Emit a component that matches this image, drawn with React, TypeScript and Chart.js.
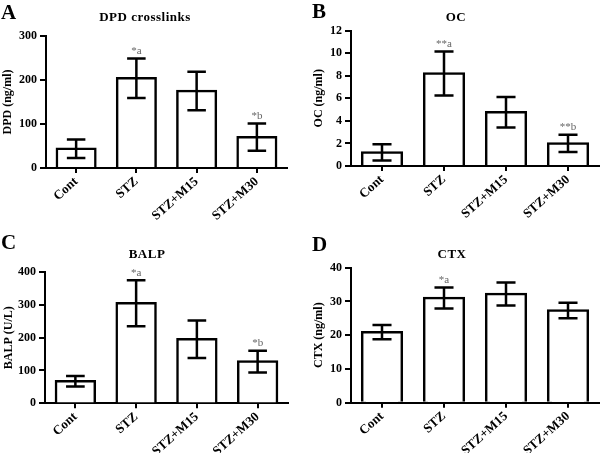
import React, { useEffect, useRef } from "react";
import { Chart, registerables } from "chart.js";

Chart.register(...registerables);

const categories = ["Cont", "STZ", "STZ+M15", "STZ+M30"];

const dpdMeans = [44, 204, 175, 70];
const dpdErrors = [21, 45, 44, 31];
const dpdMarks = ["", "*a", "", "*b"];
const dpdAxis = [0, 300, 100];

const ocMeans = [1.2, 8.2, 4.75, 2.0];
const ocErrors = [0.72, 1.95, 1.35, 0.77];
const ocMarks = ["", "**a", "", "**b"];
const ocAxis = [0, 12, 2];

const balpMeans = [67, 305, 195, 127];
const balpErrors = [16, 70, 57, 33];
const balpMarks = ["", "*a", "", "*b"];
const balpAxis = [0, 400, 100];

const ctxMeans = [20.9, 31, 32.2, 27.3];
const ctxErrors = [2.1, 3.1, 3.4, 2.3];
const ctxMarks = ["", "*a", "", ""];
const ctxAxis = [0, 40, 10];

const FONT = '"Liberation Serif", "Times New Roman", serif';

type Spec = {
  letter: string;
  title: string;
  yTitle: string;
  means: number[];
  errors: number[];
  marks: string[];
  axis: number[];
  left: number;
  top: number;
  width: number;
  height: number;
  area: { l: number; r: number; t: number; b: number };
  titleX: number;
  titleY: number;
  letterX: number;
  letterY: number;
  yTitlePad: number;
};

const panels: Spec[] = [
  {
    letter: "A", title: "DPD crosslinks", yTitle: "DPD (ng/ml)",
    means: dpdMeans, errors: dpdErrors, marks: dpdMarks, axis: dpdAxis,
    left: 0, top: 0, width: 300, height: 226,
    area: { l: 46, r: 287, t: 36, b: 168 },
    titleX: 145, titleY: 18, letterX: 1, letterY: 19, yTitlePad: 1,
  },
  {
    letter: "B", title: "OC", yTitle: "OC (ng/ml)",
    means: ocMeans, errors: ocErrors, marks: ocMarks, axis: ocAxis,
    left: 300, top: 0, width: 300, height: 226,
    area: { l: 51, r: 299, t: 30.5, b: 166 },
    titleX: 156, titleY: 18, letterX: 12, letterY: 18, yTitlePad: 12,
  },
  {
    letter: "C", title: "BALP", yTitle: "BALP (U/L)",
    means: balpMeans, errors: balpErrors, marks: balpMarks, axis: balpAxis,
    left: 0, top: 226, width: 300, height: 227,
    area: { l: 45, r: 288, t: 46, b: 177.3 },
    titleX: 147, titleY: 29, letterX: 1, letterY: 23, yTitlePad: 2,
  },
  {
    letter: "D", title: "CTX", yTitle: "CTX (ng/ml)",
    means: ctxMeans, errors: ctxErrors, marks: ctxMarks, axis: ctxAxis,
    left: 300, top: 226, width: 300, height: 227,
    area: { l: 51, r: 299, t: 41.7, b: 176.7 },
    titleX: 152, titleY: 29, letterX: 12, letterY: 25, yTitlePad: 12,
  },
];

function Panel({ spec }: { spec: Spec }) {
  const ref = useRef<HTMLCanvasElement>(null);
  useEffect(() => {
    const s = spec;
    const canvas = ref.current!;
    const extras = {
      id: "extras" + s.letter,
      beforeDraw(chart: any) {
        chart.ctx.letterSpacing = "0px";
      },
      beforeDatasetsDraw(chart: any) {
        chart.ctx.letterSpacing = "0.5px";
      },
      afterDatasetsDraw(chart: any) {
        const { ctx } = chart;
        const y = chart.scales.y;
        const meta = chart.getDatasetMeta(0);
        ctx.save();
        ctx.strokeStyle = "#000";
        ctx.lineWidth = 2.5;
        meta.data.forEach((bar: any, i: number) => {
          const m = s.means[i];
          const e = s.errors[i];
          const x = bar.x;
          const top = y.getPixelForValue(m + e);
          const bot = y.getPixelForValue(m - e);
          const half = bar.width * 0.24;
          ctx.beginPath();
          ctx.moveTo(x, top);
          ctx.lineTo(x, bot);
          ctx.moveTo(x - half, top);
          ctx.lineTo(x + half, top);
          ctx.moveTo(x - half, bot);
          ctx.lineTo(x + half, bot);
          ctx.stroke();
          if (s.marks[i]) {
            ctx.letterSpacing = "0px";
            ctx.fillStyle = "#666";
            ctx.font = "11px " + FONT;
            ctx.textAlign = "center";
            ctx.textBaseline = "bottom";
            ctx.fillText(s.marks[i], x, top - 2);
          }
        });
        ctx.letterSpacing = "0.5px";
        ctx.fillStyle = "#000";
        ctx.font = "bold 13px " + FONT;
        ctx.textAlign = "center";
        ctx.textBaseline = "middle";
        ctx.fillText(s.title, s.titleX, s.titleY);
        ctx.letterSpacing = "0px";
        ctx.font = "bold 21px " + FONT;
        ctx.textAlign = "left";
        ctx.textBaseline = "alphabetic";
        ctx.fillText(s.letter, s.letterX, s.letterY);
        ctx.restore();
      },
    };
    const tickFont = { family: FONT, size: 12, weight: "bold" as const };
    const xFont = { family: FONT, size: 13, weight: "bold" as const };
    const chart = new Chart(canvas, {
      type: "bar",
      data: {
        labels: categories,
        datasets: [
          {
            data: s.means,
            backgroundColor: "#ffffff",
            borderColor: "#000000",
            borderWidth: 2.5,
            borderSkipped: "bottom",
            inflateAmount: 1.25,
            categoryPercentage: 1,
            barPercentage: 0.64,
          },
        ],
      },
      options: {
        responsive: false,
        maintainAspectRatio: false,
        animation: false,
        devicePixelRatio: 1,
        layout: {
          padding: { left: 0, top: s.area.t, right: s.width - s.area.r, bottom: 0 },
        },
        plugins: {
          legend: { display: false },
          tooltip: { enabled: false },
          title: { display: false },
        },
        scales: {
          x: {
            z: 1,
            offset: true,
            grid: {
              display: true,
              drawOnChartArea: false,
              drawTicks: true,
              tickLength: 5,
              color: "#000",
              lineWidth: 2,
              offset: false,
            },
            border: { display: true, color: "#000", width: 2 },
            ticks: {
              color: "#000",
              font: xFont,
              maxRotation: 42,
              minRotation: 42,
              autoSkip: false,
              padding: 1,
            },
            afterFit: (sc: any) => {
              sc.height = s.height - s.area.b;
            },
          },
          y: {
            min: s.axis[0],
            max: s.axis[1],
            ticks: { stepSize: s.axis[2], color: "#000", font: tickFont, padding: 3 },
            grid: {
              drawOnChartArea: false,
              drawTicks: true,
              tickLength: 6,
              color: "#000",
              lineWidth: 2,
            },
            border: { display: true, color: "#000", width: 2 },
            title: {
              display: true,
              text: s.yTitle,
              color: "#000",
              font: tickFont,
              padding: { top: s.yTitlePad, bottom: 0 },
            },
            afterFit: (sc: any) => {
              sc.width = s.area.l;
            },
          },
        },
      },
      plugins: [extras],
    } as any);
    return () => chart.destroy();
  }, [spec]);
  return (
    <canvas
      ref={ref}
      width={spec.width}
      height={spec.height}
      style={{ position: "absolute", left: spec.left, top: spec.top, width: spec.width, height: spec.height }}
    />
  );
}

export default function App() {
  return (
    <div style={{ position: "absolute", left: 0, top: 0, width: 600, height: 453, background: "#fff", overflow: "hidden" }}>
      {panels.map((p) => (
        <Panel key={p.letter} spec={p} />
      ))}
    </div>
  );
}
